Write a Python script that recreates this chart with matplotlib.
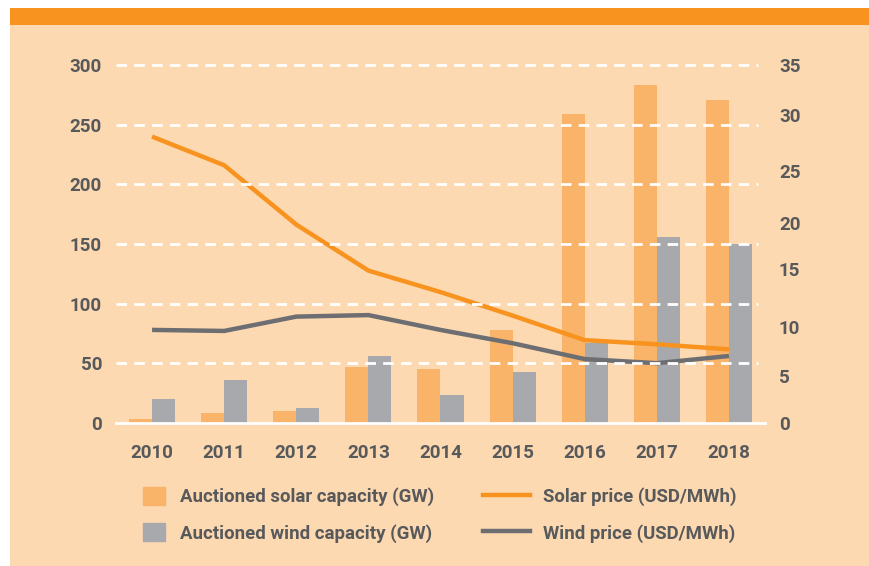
import numpy as np
import matplotlib
matplotlib.use("Agg")
from matplotlib import pyplot as plt
from matplotlib.patches import Rectangle
from matplotlib.lines import Line2D
import matplotlib.transforms as mtransforms

# chart data
years = ['2010', '2011', '2012', '2013', '2014', '2015', '2016', '2017', '2018']
solar_gw = [3.4, 8.4, 10, 47, 45, 78, 259, 283, 271]
wind_gw = [20, 36, 12.6, 56, 23.5, 43, 67, 156, 150]
solar_price = [28.0, 25.2, 19.4, 14.9, 12.8, 10.5, 8.1, 7.7, 7.2]
wind_price = [9.1, 9.0, 10.4, 10.55, 9.1, 7.8, 6.25, 5.85, 6.55]
left_ticks = [0, 50, 100, 150, 200, 250, 300]
right_labels = ['0', '5', '10', '15', '20', '25', '30', '35']

BG = '#FCD9B1'
ORANGE = '#F7931E'
SOLAR_BAR = '#F9B46A'
WIND_BAR = '#A7A9AC'
WIND_LINE = '#6D6E71'
TXT = '#58595B'

plt.rcParams['font.family'] = ['Roboto', 'DejaVu Sans']
plt.rcParams['font.weight'] = 'bold'

fig = plt.figure(figsize=(8.7, 5.66), dpi=100)
fig.patch.set_facecolor('white')
# peach panel + orange header strip
fig.add_artist(Rectangle((10/870, 0), 1, 1 - 25/566, transform=fig.transFigure,
                         facecolor=BG, edgecolor='none', zorder=-10))
fig.add_artist(Rectangle((10/870, 1 - 25/566), 1, 17/566, transform=fig.transFigure,
                         facecolor=ORANGE, edgecolor='none', zorder=-10))

ax = fig.add_axes([116/870, 1 - 423/566, (765 - 116)/870, (423 - 65)/566])
ax.set_facecolor('none')
ax2 = ax.twinx()

x = np.arange(len(years))
w = 0.32
ax.bar(x - w/2, solar_gw, w, color=SOLAR_BAR, zorder=2)
ax.bar(x + w/2, wind_gw, w, color=WIND_BAR, zorder=2)
ax.set_ylim(0, 300)
ax.set_xlim(-0.5, 8.5)
ax.set_yticks(left_ticks)
ax.set_xticks(x)
ax.set_xticklabels(years)

ax2.plot(x, solar_price, color=ORANGE, lw=3.2, solid_capstyle='butt', zorder=3)
ax2.plot(x, wind_price, color=WIND_LINE, lw=3.2, solid_capstyle='butt', zorder=3)
ax2.set_ylim(0, 35)
# right labels sit where they do in the original (not evenly spaced)
ax2.set_yticks([0, 4.6, 9.4, 15.1, 19.6, 24.6, 30.1, 35])
ax2.set_yticklabels(right_labels)

# white dashed grid on top of everything
trans = mtransforms.blended_transform_factory(ax2.transAxes, ax.transData)
for v in left_ticks[1:]:
    ax2.plot([0, (758 - 116)/(765 - 116)], [v, v], transform=trans, color='white',
             lw=2, dashes=(3.8, 2.6), zorder=5, clip_on=False)
ax2.plot([0, 1], [0, 0], transform=trans, color='white', lw=2, zorder=5, clip_on=False)

for a in (ax, ax2):
    for s in a.spines.values():
        s.set_visible(False)
    a.tick_params(length=0, labelsize=13.5, labelcolor=TXT)
ax.tick_params(axis='y', pad=10)
ax.tick_params(axis='x', pad=15)
ax2.tick_params(axis='y', pad=10)

h1 = [Rectangle((0, 0), 1, 1, color=SOLAR_BAR), Rectangle((0, 0), 1, 1, color=WIND_BAR)]
leg1 = fig.legend(h1, ['Auctioned solar capacity (GW)', 'Auctioned wind capacity (GW)'],
                  loc='upper left', bbox_to_anchor=(143/870, 1 - 487/566), frameon=False,
                  fontsize=13.4, handlelength=1.2, handleheight=1.1, handletextpad=0.8,
                  labelspacing=0.9, borderpad=0, borderaxespad=0, labelcolor=TXT)
h2 = [Line2D([], [], color=ORANGE, lw=3.2), Line2D([], [], color=WIND_LINE, lw=3.2)]
leg2 = fig.legend(h2, ['Solar price (USD/MWh)', 'Wind price (USD/MWh)'],
                  loc='upper left', bbox_to_anchor=(483/870, 1 - 487/566), frameon=False,
                  fontsize=13.4, handlelength=2.5, handleheight=1.1, handletextpad=0.75,
                  labelspacing=0.9, borderpad=0, borderaxespad=0, labelcolor=TXT)

fig.savefig('out.png', dpi=100, facecolor=fig.get_facecolor())
